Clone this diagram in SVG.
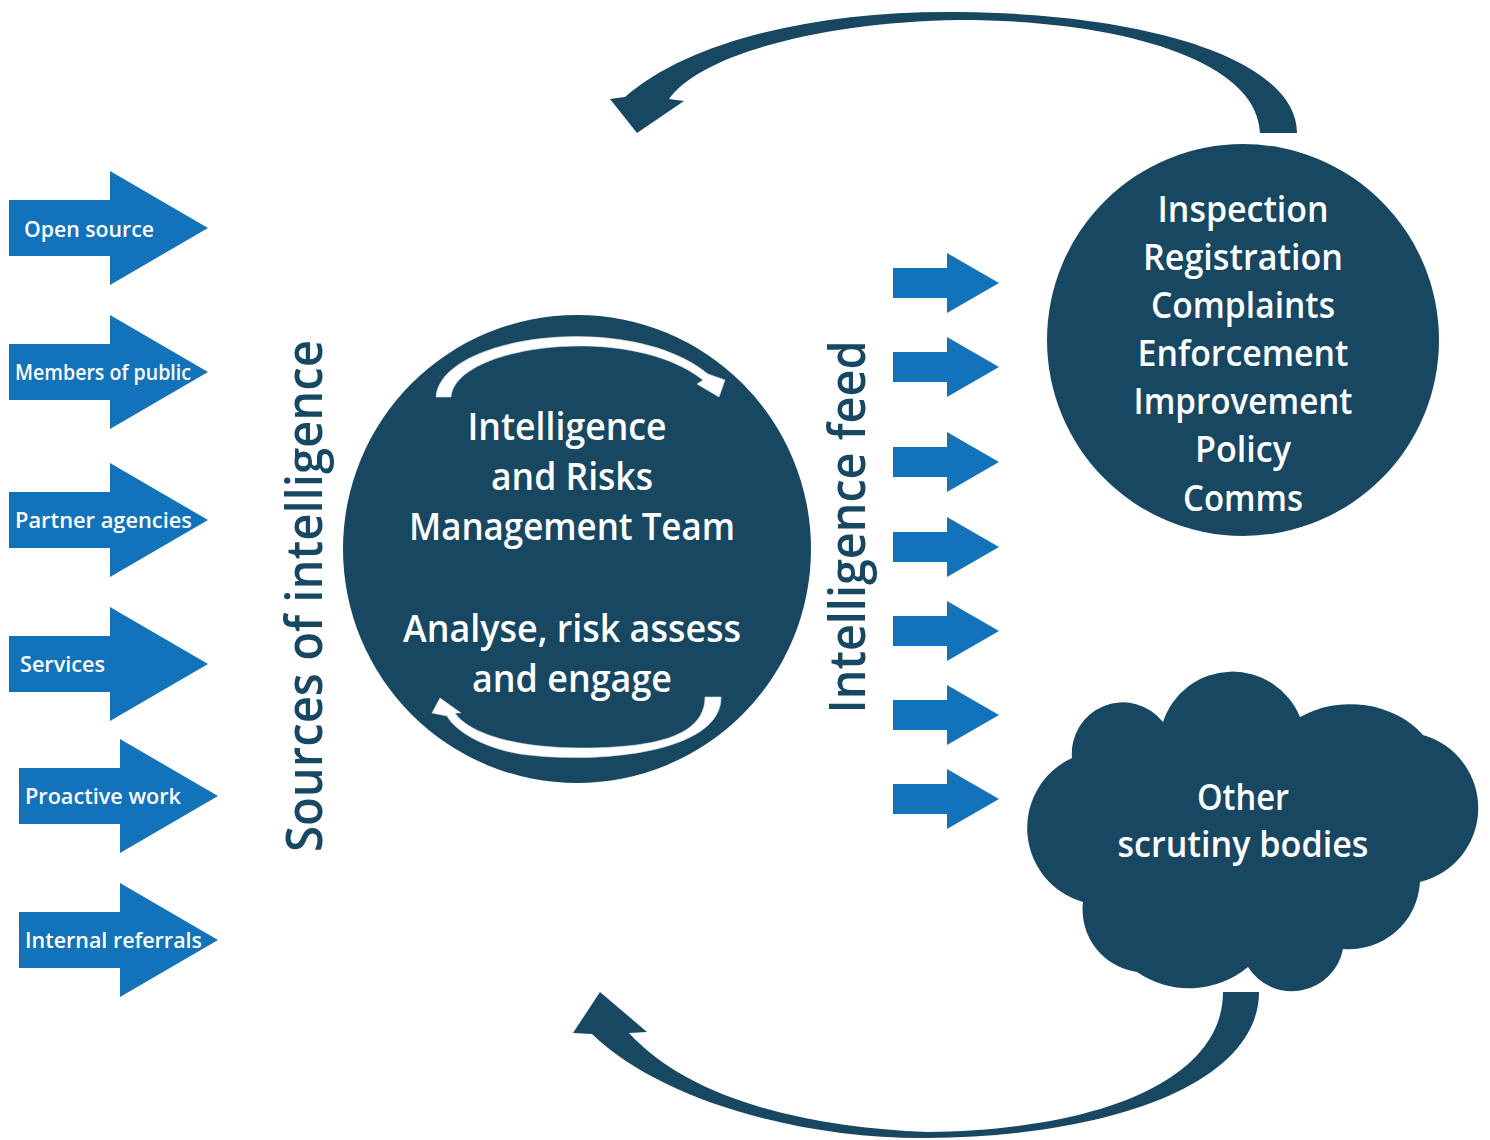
<svg xmlns="http://www.w3.org/2000/svg" xmlns:xlink="http://www.w3.org/1999/xlink" width="1490" height="1140" viewBox="0 0 1490 1140">
<defs>
<style>
.dark{fill:#184762}
.blue{fill:#1272ba}
.t{font-family:'Open Sans','Noto Sans','DejaVu Sans',sans-serif;font-weight:600}
.w{fill:#ffffff}
.d{fill:#184762}
.lab{font-size:22px}
.big{font-size:37px}
.rc{font-size:36px}
.rot{font-size:50px}
.warrow{fill:#ffffff;stroke:#d5dee4;stroke-width:0.6}
</style>
<polygon id="srcArrow" points="0,-28 101,-28 101,-57 199,0 101,57 101,28 0,28"/>
<polygon id="feedArrow" points="0,-15 54,-15 54,-30 106,0 54,30 54,15 0,15"/>
</defs>
<rect width="1490" height="1140" fill="#ffffff"/>

<g id="connectors">
<path id="loop-top" class="dark" d="M 1297 133 C 1297 60, 1150 14, 960 12 C 820 10, 690 40, 625 97 L 610 99 L 637 133 L 684 101 L 669 99 C 700 55, 820 22, 960 20 C 1120 20, 1258 60, 1260 133 Z"/>
<path id="loop-bottom" class="dark" d="M 1259 992 C 1259 1080, 1120 1136, 927 1138 C 800 1139, 660 1100, 592 1034 L 573 1033 L 600 992 L 647 1032 L 629 1033 C 690 1100, 810 1128, 927 1132 C 1100 1130, 1223 1080, 1223 992 Z"/>
</g>

<g id="src-open-source">
<use xlink:href="#srcArrow" href="#srcArrow" x="9" y="228" class="blue"/>
<text class="t w lab" x="24" y="237" textLength="130" lengthAdjust="spacingAndGlyphs">Open source</text>
</g>
<g id="src-members-of-public">
<use xlink:href="#srcArrow" href="#srcArrow" x="9" y="372" class="blue"/>
<text class="t w lab" x="15" y="380" textLength="176" lengthAdjust="spacingAndGlyphs" style="font-size:21px">Members of public</text>
</g>
<g id="src-partner-agencies">
<use xlink:href="#srcArrow" href="#srcArrow" x="9" y="520" class="blue"/>
<text class="t w lab" x="15" y="528" textLength="177" lengthAdjust="spacingAndGlyphs">Partner agencies</text>
</g>
<g id="src-services">
<use xlink:href="#srcArrow" href="#srcArrow" x="9" y="664" class="blue"/>
<text class="t w lab" x="20" y="672" textLength="85" lengthAdjust="spacingAndGlyphs">Services</text>
</g>
<g id="src-proactive-work">
<use xlink:href="#srcArrow" href="#srcArrow" x="19" y="796" class="blue"/>
<text class="t w lab" x="25" y="804" textLength="156" lengthAdjust="spacingAndGlyphs">Proactive work</text>
</g>
<g id="src-internal-referrals">
<use xlink:href="#srcArrow" href="#srcArrow" x="19" y="940" class="blue"/>
<text class="t w lab" x="25" y="948" textLength="177" lengthAdjust="spacingAndGlyphs">Internal referrals</text>
</g>

<g id="label-sources">
<text class="t d rot" transform="translate(322,596) rotate(-90)" text-anchor="middle" textLength="512" lengthAdjust="spacingAndGlyphs">Sources of intelligence</text>
</g>

<g id="irmt">
<circle class="dark" cx="577" cy="549" r="234"/>
<path class="warrow" d="M 436 397 C 440 335, 630 310, 708 374 L 725 380 L 719 397 L 697 384 L 703 380 C 630 322, 455 345, 451 397 Z"/>
<path class="warrow" d="M 721 697 C 722 752, 600 765, 520 754 C 480 747, 455 730, 447 716 L 432 713 L 440 698 L 461 713 L 455 713 C 470 735, 520 748, 580 748 C 650 748, 705 738, 705 697 Z"/>
<text class="t w big" x="567" y="440" text-anchor="middle" textLength="199" lengthAdjust="spacingAndGlyphs">Intelligence</text>
<text class="t w big" x="572" y="490" text-anchor="middle" textLength="162" lengthAdjust="spacingAndGlyphs">and Risks</text>
<text class="t w big" x="572" y="540" text-anchor="middle" textLength="326" lengthAdjust="spacingAndGlyphs">Management Team</text>
<text class="t w big" x="572" y="642" text-anchor="middle" textLength="338" lengthAdjust="spacingAndGlyphs">Analyse, risk assess</text>
<text class="t w big" x="572" y="692" text-anchor="middle" textLength="200" lengthAdjust="spacingAndGlyphs">and engage</text>
</g>

<g id="label-feed">
<text class="t d rot" transform="translate(865,527) rotate(-90)" text-anchor="middle" textLength="373" lengthAdjust="spacingAndGlyphs">Intelligence feed</text>
</g>

<g id="feed-arrows">
<use xlink:href="#feedArrow" href="#feedArrow" x="893" y="283" class="blue"/>
<use xlink:href="#feedArrow" href="#feedArrow" x="893" y="367" class="blue"/>
<use xlink:href="#feedArrow" href="#feedArrow" x="893" y="462" class="blue"/>
<use xlink:href="#feedArrow" href="#feedArrow" x="893" y="547" class="blue"/>
<use xlink:href="#feedArrow" href="#feedArrow" x="893" y="631" class="blue"/>
<use xlink:href="#feedArrow" href="#feedArrow" x="893" y="715" class="blue"/>
<use xlink:href="#feedArrow" href="#feedArrow" x="893" y="799" class="blue"/>
</g>

<g id="functions">
<circle class="dark" cx="1243" cy="340" r="196"/>
<text class="t w rc" x="1243" y="222" text-anchor="middle" textLength="171" lengthAdjust="spacingAndGlyphs">Inspection</text>
<text class="t w rc" x="1243" y="270" text-anchor="middle" textLength="200" lengthAdjust="spacingAndGlyphs">Registration</text>
<text class="t w rc" x="1243" y="318" text-anchor="middle" textLength="184" lengthAdjust="spacingAndGlyphs">Complaints</text>
<text class="t w rc" x="1243" y="366" text-anchor="middle" textLength="211" lengthAdjust="spacingAndGlyphs">Enforcement</text>
<text class="t w rc" x="1243" y="414" text-anchor="middle" textLength="219" lengthAdjust="spacingAndGlyphs">Improvement</text>
<text class="t w rc" x="1243" y="462" text-anchor="middle" textLength="96" lengthAdjust="spacingAndGlyphs">Policy</text>
<text class="t w rc" x="1243" y="511" text-anchor="middle" textLength="120" lengthAdjust="spacingAndGlyphs">Comms</text>
</g>

<g id="other-scrutiny-bodies">
<path class="dark" d="M 1072 758 A 51 51 0 0 1 1163 722 A 73 73 0 0 1 1300 717 A 90 75 0 0 1 1423 735 A 76 76 0 0 1 1420 882 A 71 71 0 0 1 1343 949 A 52 52 0 0 1 1248 967 A 92 92 0 0 1 1137 972 A 63 63 0 0 1 1083 902 A 77 77 0 0 1 1072 758 Z"/>
<text class="t w rc" x="1243" y="810" text-anchor="middle" textLength="92" lengthAdjust="spacingAndGlyphs">Other</text>
<text class="t w rc" x="1243" y="857" text-anchor="middle" textLength="251" lengthAdjust="spacingAndGlyphs">scrutiny bodies</text>
</g>
</svg>
